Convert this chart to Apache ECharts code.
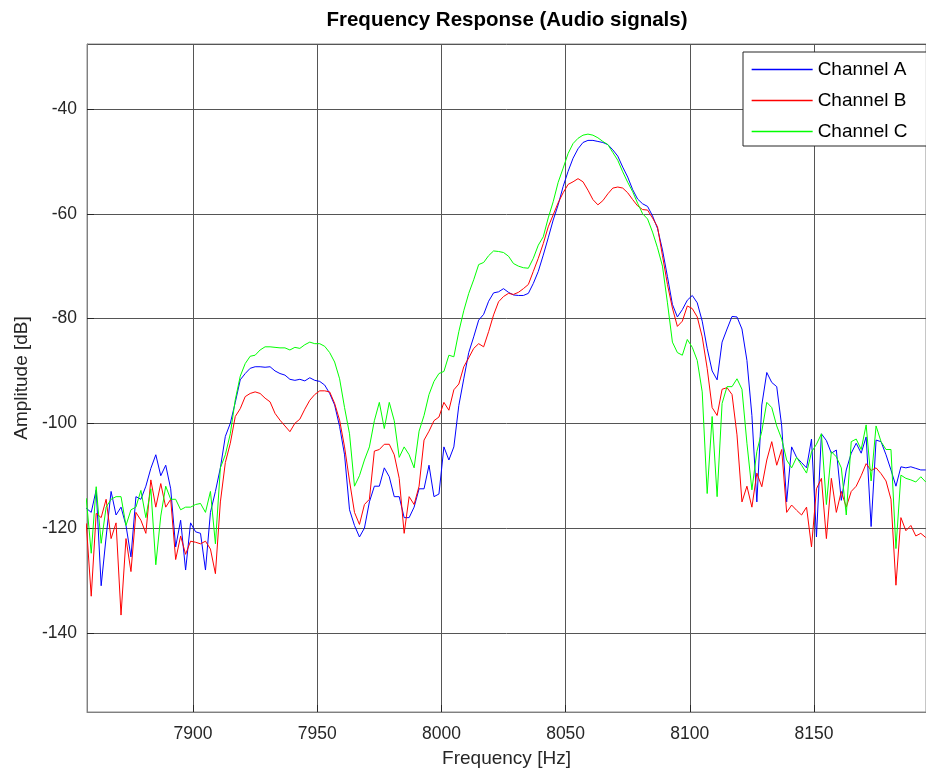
<!DOCTYPE html>
<html>
<head>
<meta charset="utf-8">
<script src="https://cdn.jsdelivr.net/npm/echarts@6/dist/echarts.min.js"></script>
<style>
html,body{margin:0;padding:0;background:#fff;}
#chart{width:926px;height:774px;}
</style>
</head>
<body>
<div id="chart"></div>
<script>
var freq = [
7857,7859,7861,7863,7865,7867,7869,7871,7873,7875,
7877,7879,7881,7883,7885,7887,7889,7891,7893,7895,
7897,7899,7901,7903,7905,7907,7909,7911,7913,7915,
7917,7919,7921,7923,7925,7927,7929,7931,7933,7935,
7937,7939,7941,7943,7945,7947,7949,7951,7953,7955,
7957,7959,7961,7963,7965,7967,7969,7971,7973,7975,
7977,7979,7981,7983,7985,7987,7989,7991,7993,7995,
7997,7999,8001,8003,8005,8007,8009,8011,8013,8015,
8017,8019,8021,8023,8025,8027,8029,8031,8033,8035,
8037,8039,8041,8043,8045,8047,8049,8051,8053,8055,
8057,8059,8061,8063,8065,8067,8069,8071,8073,8075,
8077,8079,8081,8083,8085,8087,8089,8091,8093,8095,
8097,8099,8101,8103,8105,8107,8109,8111,8113,8115,
8117,8119,8121,8123,8125,8127,8129,8131,8133,8135,
8137,8139,8141,8143,8145,8147,8149,8151,8153,8155,
8157,8159,8161,8163,8165,8167,8169,8171,8173,8175,
8177,8179,8181,8183,8185,8187,8189,8191,8193,8195
];

var channelA = [
-116.2,-117,-112.7,-131,-121.7,-113,-117.5,-116,-119.5,-125.5,
-114,-114.5,-112,-108.6,-106,-110,-108,-112.5,-123.6,-118.5,
-128,-119,-120.7,-121,-128,-117,-113,-108.5,-102.5,-100,
-96,-91.7,-90.5,-89.5,-89.2,-89.2,-89.3,-89.2,-90,-90.5,
-90.8,-91.6,-91.8,-91.6,-91.9,-91.3,-91.8,-92,-92.7,-94.3,
-96.5,-100.6,-106,-116.5,-119.5,-121.7,-120,-115,-112,-112,
-108.5,-110.2,-114,-114,-118,-118,-116,-112.5,-112.5,-108,
-114,-113.5,-104.5,-107,-104.5,-96.6,-91.5,-86.5,-83.5,-80.3,
-79.2,-76.7,-75.1,-74.9,-74.3,-75,-75.5,-75.6,-75.6,-75.2,
-73.3,-71,-67.9,-64.6,-61.2,-58.3,-54.8,-51.9,-49.4,-47.6,
-46.4,-46,-46,-46.2,-46.4,-46.8,-47.8,-49,-51.1,-53,
-55.4,-57.2,-58.1,-58.6,-60.4,-62.8,-66.9,-72,-77.3,-79.7,
-78.3,-76.5,-75.6,-77,-80.5,-85.7,-90,-91.7,-84.5,-82,
-79.6,-79.7,-82,-88,-98.5,-115,-96.5,-90.3,-92.2,-93,
-100.5,-115,-104.5,-106.5,-107.5,-108.5,-103,-121.7,-102,-103.3,
-105.7,-105.1,-114.7,-108.9,-105.7,-103.8,-105.7,-102.6,-119.7,-103.2,
-103.5,-106,-108.9,-112,-108.3,-108.5,-108.3,-108.6,-108.9,-108.9
];

var channelB = [
-119.1,-133,-117.2,-118,-114.5,-122,-119,-136.6,-122,-128.3,
-117,-118.5,-121,-110.8,-116,-111.5,-116,-114.5,-126,-121.5,
-125,-122.5,-122.7,-123,-122.5,-124,-128.7,-115,-107.5,-103.8,
-98.7,-97.2,-94.9,-94.3,-94,-94.3,-95.2,-95.9,-98.1,-99.4,
-100.5,-101.6,-100,-99.2,-97.3,-95.6,-94.5,-93.8,-93.8,-94,
-96.2,-99.4,-104.5,-111,-117,-119.3,-115.5,-114.5,-105.3,-105,
-104,-104,-106,-110.5,-121,-114,-115.5,-112,-103.2,-101.5,
-99.5,-98.8,-96,-97.5,-93.6,-92.5,-89.2,-87.5,-85.7,-84.8,
-85.4,-82.5,-79.3,-76.8,-75.8,-75.2,-75.4,-75,-74.3,-73.5,
-71,-68.5,-65.7,-62.5,-60.2,-57.9,-56,-54.4,-53.9,-53.3,
-53.9,-55.5,-57.3,-58.3,-57.5,-56.2,-55.1,-54.9,-55.1,-56,
-57.3,-58.5,-59.2,-59.3,-60.8,-62.5,-68,-73.5,-78,-81.5,
-80.5,-77.6,-78.1,-79.7,-83.5,-89.5,-97,-98.5,-93.5,-93.2,
-94.5,-102.2,-115,-112,-116,-109.5,-112.1,-107,-103.5,-108,
-105,-117,-115.6,-116.6,-117.5,-116,-123.6,-112.5,-110.5,-122,
-110.5,-117,-113,-116,-113,-112,-110,-107.7,-109,-108.5,
-109.6,-111,-114.5,-130.9,-118,-120.5,-119.5,-121.5,-121,-121.8
];

var channelC = [
-114.3,-124.8,-112.1,-122.9,-116,-114.5,-114,-114,-119.5,-116.5,
-116,-112.8,-118,-112.5,-127,-117.7,-112,-114.5,-114.5,-116.5,
-116,-116,-115.5,-115.3,-117,-113,-123,-108.5,-106,-102,
-95.5,-91,-88.6,-87.2,-87,-86,-85.4,-85.4,-85.5,-85.6,
-85.6,-86,-85.5,-85.7,-85,-84.5,-84.8,-84.8,-85.3,-86.5,
-88.3,-91.5,-97,-102,-112,-110,-107,-104.5,-99.5,-96,
-101,-96,-99.5,-106.5,-104.5,-106,-108.5,-101.5,-98.5,-94.5,
-92,-90.5,-90.1,-87,-87.3,-82.5,-78.5,-75.2,-72.6,-69.7,
-69.3,-68,-67.1,-67.2,-67.4,-68.1,-69.5,-70,-70.3,-70.4,
-68.5,-66,-64.4,-60.8,-57.7,-54,-51.3,-48.5,-46.6,-45.6,
-45,-44.8,-45,-45.5,-46.2,-46.8,-48.3,-49.8,-52,-54,
-55.8,-58,-60,-61,-63.5,-66.5,-70,-77,-84.5,-86.5,
-87,-84,-85.5,-88,-94,-113.4,-98.7,-114,-96.2,-93,
-93,-91.5,-93.5,-103.8,-112.7,-105.4,-101.5,-96,-97,-100.5,
-103,-107,-108.5,-106.5,-108,-109.5,-105.5,-104,-102,-115.5,
-105.4,-106.4,-108.5,-117.5,-103.5,-103,-105,-100.3,-111,-100.5,
-103.5,-105,-105,-123.9,-109.9,-110.5,-110.8,-111.2,-110.2,-111.2
];

var seriesNames = ['Channel A', 'Channel B', 'Channel C'];
var seriesColors = ['#0000ff', '#ff0000', '#00ff00'];
var seriesValues = [channelA, channelB, channelC];

var FONT = "'Liberation Sans', Arial, Helvetica, sans-serif";

function pairs(vals) {
  return freq.map(function (f, i) { return [f, vals[i]]; });
}

var chart = echarts.init(document.getElementById('chart'), null, {renderer: 'canvas'});

var option = {
  animation: false,
  backgroundColor: '#ffffff',
  title: {
    text: 'Frequency Response (Audio signals)',
    left: 507,
    top: 10,
    textAlign: 'center',
    padding: 0,
    textStyle: {fontSize: 20.5, fontWeight: 'bold', color: '#000', fontFamily: FONT}
  },
  legend: {
    data: seriesNames.map(function (n, k) {
      return {
        name: n,
        itemStyle: {opacity: 0},
        lineStyle: {color: seriesColors[k], width: 1.3, opacity: 1}
      };
    }),
    orient: 'vertical',
    left: 743,
    top: 52,
    itemWidth: 61,
    itemHeight: 14,
    itemGap: 12,
    padding: [8, 19, 5, 8],
    itemStyle: {opacity: 0},
    backgroundColor: '#ffffff',
    borderColor: '#262626',
    borderWidth: 1,
    borderRadius: 0,
    textStyle: {fontSize: 19, color: '#000', fontFamily: FONT, lineHeight: 19}
  },
  grid: {
    left: 87, right: 0, top: 44, bottom: 62,
    show: true, borderColor: '#8c8c8c', borderWidth: 1,
    containLabel: false
  },
  xAxis: {
    type: 'value',
    min: 7857.3,
    max: 8195.1,
    splitNumber: 5,
    name: 'Frequency [Hz]',
    nameLocation: 'middle',
    nameGap: 37,
    nameTextStyle: {fontSize: 19, color: '#262626', fontFamily: FONT},
    axisLine: {show: true, onZero: false, lineStyle: {color: '#808080', width: 1}},
    axisTick: {show: true, inside: true, length: 7, lineStyle: {color: '#262626'}},
    axisLabel: {
      show: true, color: '#262626', fontSize: 17.5, fontFamily: FONT, margin: 13,
      showMinLabel: false, showMaxLabel: false,
      formatter: function (v) { return (Math.abs(v % 50) < 1e-6) ? String(v) : ''; }
    },
    splitLine: {show: true, lineStyle: {color: '#555555', width: 1}}
  },
  yAxis: {
    type: 'value',
    min: -155.1,
    max: -27.6,
    splitNumber: 6,
    name: 'Amplitude [dB]',
    nameLocation: 'middle',
    nameGap: 56,
    nameTextStyle: {fontSize: 19, color: '#262626', fontFamily: FONT},
    axisLine: {show: true, onZero: false, lineStyle: {color: '#808080', width: 1}},
    axisTick: {show: true, inside: true, length: 7, lineStyle: {color: '#262626'}},
    axisLabel: {
      show: true, color: '#262626', fontSize: 17.5, fontFamily: FONT, margin: 10,
      showMinLabel: false, showMaxLabel: false,
      formatter: function (v) { return (Math.abs(v % 20) < 1e-6) ? String(v) : ''; }
    },
    splitLine: {show: true, lineStyle: {color: '#555555', width: 1}}
  },
  series: seriesNames.map(function (name, k) {
    return {
      name: name,
      type: 'line',
      data: pairs(seriesValues[k]),
      showSymbol: false,
      symbol: 'none',
      smooth: false,
      color: seriesColors[k],
      lineStyle: {color: seriesColors[k], width: 1},
      emphasis: {disabled: true},
      z: 2 + k
    };
  })
};

chart.setOption(option);
</script>
</body>
</html>
